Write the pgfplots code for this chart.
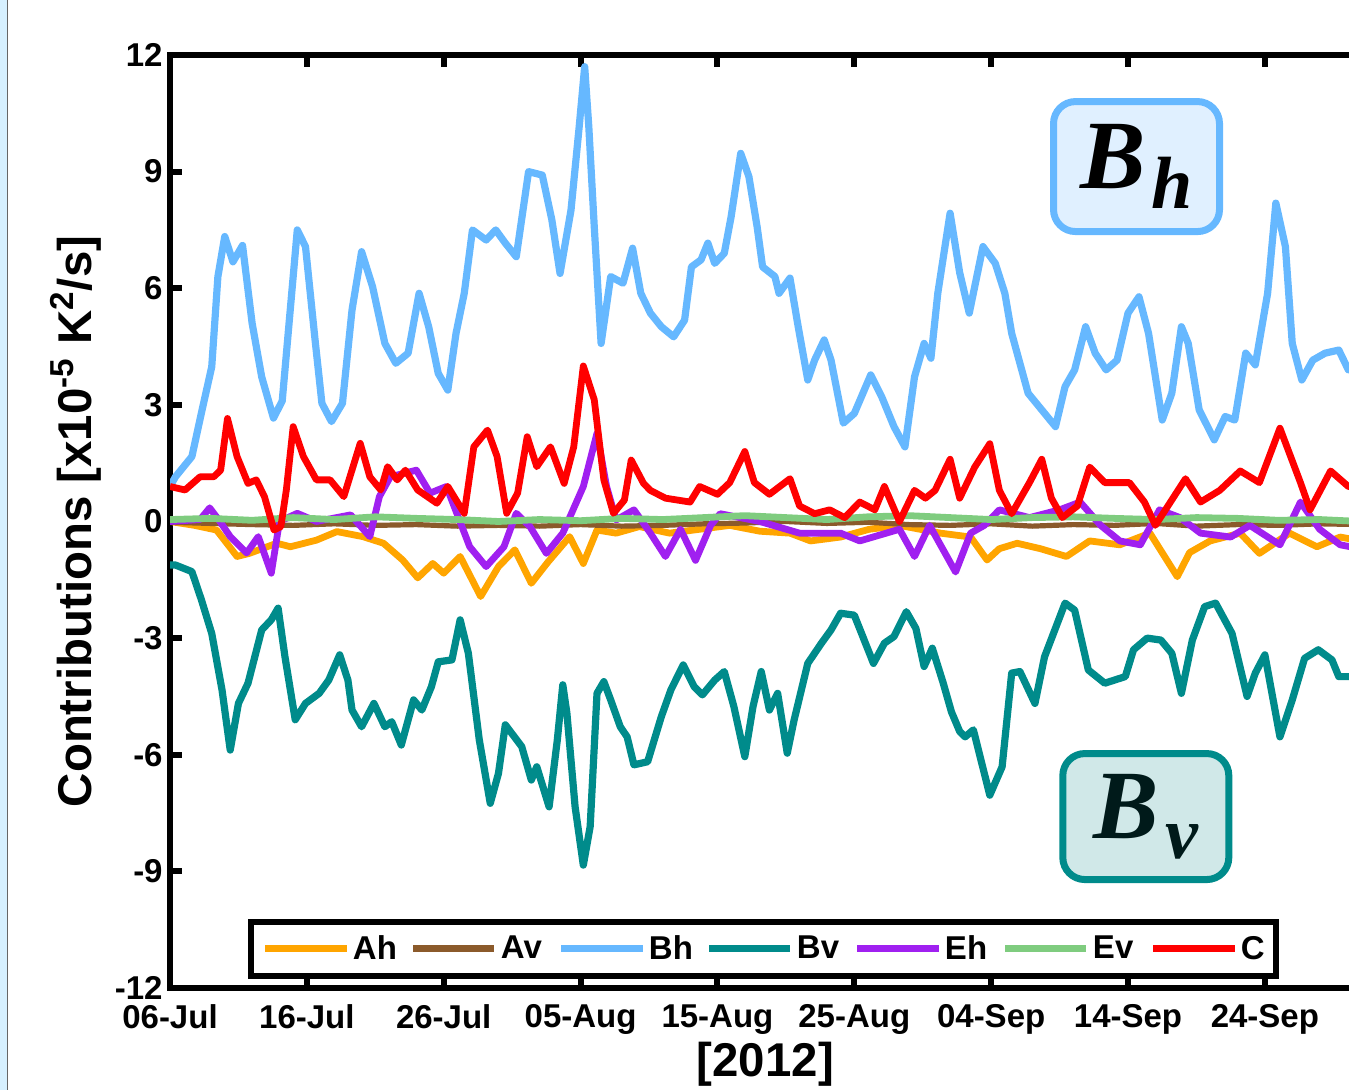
\documentclass[border=0pt]{standalone}
\usepackage{fontspec}
\setmainfont{Liberation Sans}
\newfontfamily\serifbi{Liberation Serif}
\usepackage{pgfplots}
\pgfplotsset{compat=1.18}

\definecolor{cAh}{RGB}{255,165,0}
\definecolor{cAv}{RGB}{139,90,43}
\definecolor{cBh}{RGB}{102,184,255}
\definecolor{cBv}{RGB}{0,139,139}
\definecolor{cEh}{RGB}{160,32,240}
\definecolor{cEv}{RGB}{127,204,127}
\definecolor{cC}{RGB}{255,0,0}
\definecolor{bhfill}{RGB}{224,240,255}
\definecolor{bvfill}{RGB}{208,232,232}
\definecolor{slide}{RGB}{214,240,255}

% big B with a subscript, for the two tags
\newcommand{\btag}[2]{{\serifbi\bfseries\itshape\fontsize{49}{50}\selectfont #1\kern3pt\raisebox{-10pt}{\fontsize{37}{40}\selectfont #2}}}

\begin{document}
\begin{tikzpicture}[x=0.5pt,y=0.5pt]
  \path[use as bounding box] (0,0) rectangle (1349,1090);
  \clip (0,0) rectangle (1349,1090);
  \fill[slide] (0,0) rectangle (7,1090);
  \draw[black!60, line width=0.6pt] (7.5,0) -- (7.5,1090);

  \begin{axis}[
    at={(85pt,51pt)}, anchor=south west,
    scale only axis, width=595.35pt, height=466.5pt,
    xmin=0, xmax=87, ymin=-12, ymax=12,
    axis line style={line width=3pt},
    tick style={line width=3pt, black},
    tick align=inside, major tick length=6pt,
    xtick={0,10,20,30,40,50,60,70,80},
    xticklabels={06-Jul,16-Jul,26-Jul,05-Aug,15-Aug,25-Aug,04-Sep,14-Sep,24-Sep},
    ytick={-12,-9,-6,-3,0,3,6,9,12},
    yticklabels={-12,-9,-6,-3,0,3,6,9,12},
    ticklabel style={font=\fontsize{16.5}{18}\selectfont\bfseries},
    xticklabel style={anchor=north, inner sep=0pt, yshift=-8pt},
    yticklabel style={anchor=east, inner sep=0pt, xshift=-3.5pt},
    xlabel={[2012]},
    ylabel={Contributions [x10\textsuperscript{-5} K\textsuperscript{2}/s]},
    label style={font=\fontsize{23.7}{26}\selectfont\bfseries},
    xlabel style={at={(axis description cs:0.5,-0.0954)}, anchor=base},
    ylabel style={at={(axis description cs:-0.0663,0.5)}, anchor=base},
    every axis plot/.append style={line width=3.4pt, line join=round},
    legend columns=7,
    legend image code/.code={\draw[#1, line width=3.5pt] (0pt,0pt) -- (40.5pt,0pt);},
    legend style={at={(axis description cs:0.0655,0.0418)}, anchor=west,
      draw=black, line width=3pt, fill=white,
      font=\fontsize{16.5}{18}\selectfont\bfseries,
      inner xsep=5.5pt, inner ysep=7pt,
      nodes={inner sep=0pt},
      /tikz/every odd column/.append style={column sep=1.5pt},
      /tikz/every even column/.append style={column sep=7.5pt}},
  ]

  % Ah
  \addplot[cAh] coordinates {
    (0,0)(1.8,-0.1)(3.4,-0.22)(4.9,-0.9)(5.8,-0.82)(7.8,-0.56)(8.8,-0.65)
    (10.7,-0.48)(12.2,-0.26)(14.1,-0.39)(15.6,-0.56)(17.0,-0.99)(18.1,-1.45)
    (19.2,-1.08)(20.0,-1.33)(21.2,-0.9)(22.7,-1.93)(24.0,-1.16)(25.2,-0.73)
    (26.4,-1.59)(27.6,-1.05)(29.2,-0.39)(30.2,-1.08)(31.2,-0.22)(32.6,-0.3)
    (34.3,-0.13)(36.5,-0.3)(38.7,-0.2)(40.9,-0.1)(43.1,-0.25)(45.3,-0.3)
    (46.8,-0.5)(49.0,-0.4)(51.1,-0.2)(53.3,-0.1)(56.3,-0.3)(58.5,-0.4)
    (59.7,-0.99)(60.6,-0.7)(61.9,-0.56)(63.6,-0.7)(65.5,-0.9)(67.2,-0.5)
    (69.4,-0.6)(71.6,-0.3)(73.6,-1.42)(74.5,-0.8)(76.0,-0.5)(78.2,-0.3)
    (79.6,-0.82)(81.8,-0.3)(83.8,-0.65)(85.5,-0.4)(87,-0.5)};
  \addlegendentry{\makebox[21pt][l]{Ah}}

  % Av
  \addplot[cAv, line width=2.6pt] coordinates {
    (0,-0.02)(3,-0.05)(6,-0.08)(9,-0.1)(12,-0.06)(15,-0.1)(18,-0.08)(21,-0.12)
    (24,-0.1)(27,-0.12)(30,-0.08)(33,-0.12)(36,-0.1)(39,-0.06)(42,-0.04)(45,0.0)
    (48,-0.05)(51,-0.02)(54,-0.08)(57,-0.1)(60,-0.06)(63,-0.12)(66,-0.08)
    (69,-0.1)(72,-0.05)(75,-0.12)(78,-0.08)(81,-0.1)(84,-0.06)(87,-0.08)};
  \addlegendentry{\makebox[21pt][l]{Av}}

  % Bh
  \addplot[cBh, line width=3.6pt] coordinates {
    (0,0.9)(0.4,1.15)(1.6,1.67)(2.3,2.8)(3.05,3.98)(3.5,6.3)(4.0,7.33)(4.6,6.68)
    (5.3,7.1)(6.0,5.1)(6.7,3.72)(7.56,2.66)(8.2,3.1)(9.3,7.5)(9.9,7.07)(10.6,4.67)
    (11.1,3.04)(11.8,2.57)(12.6,3.04)(13.3,5.44)(14.0,6.94)(14.8,6.04)(15.7,4.58)
    (16.5,4.07)(17.4,4.33)(18.2,5.87)(18.9,5.01)(19.6,3.81)(20.3,3.38)(20.9,4.84)
    (21.5,5.87)(22.1,7.5)(23.1,7.24)(23.8,7.5)(24.5,7.16)(25.3,6.81)(26.2,9.0)
    (27.2,8.91)(27.9,7.76)(28.5,6.38)(29.3,8.01)(29.9,10.16)(30.3,11.7)(30.6,10.16)
    (31.0,7.58)(31.5,4.58)(32.2,6.3)(33.1,6.13)(33.8,7.03)(34.4,5.87)(35.1,5.36)
    (35.9,5.01)(36.8,4.75)(37.6,5.18)(38.1,6.55)(38.8,6.73)(39.3,7.16)(39.8,6.64)
    (40.5,6.9)(41.0,7.84)(41.7,9.47)(42.3,8.87)(42.9,7.58)(43.3,6.55)(44.2,6.3)
    (44.5,5.87)(45.3,6.26)(45.9,5.01)(46.6,3.64)(47.1,4.15)(47.8,4.67)(48.3,4.15)
    (49.2,2.53)(50.0,2.78)(51.2,3.77)(52.0,3.21)(52.9,2.44)(53.7,1.92)(54.4,3.72)
    (55.1,4.58)(55.6,4.2)(56.1,5.87)(57.0,7.93)(57.7,6.4)(58.4,5.36)(59.4,7.07)
    (60.3,6.64)(61.0,5.87)(61.5,4.84)(62.7,3.3)(63.7,2.87)(64.7,2.44)(65.4,3.47)
    (66.1,3.9)(66.9,5.01)(67.6,4.33)(68.4,3.9)(69.2,4.15)(70.0,5.36)(70.8,5.78)
    (71.5,4.84)(72.5,2.61)(73.2,3.3)(73.9,5.01)(74.4,4.58)(75.2,2.87)(76.3,2.1)
    (77.1,2.7)(77.8,2.61)(78.6,4.33)(79.3,4.03)(80.2,5.87)(80.8,8.19)(81.5,7.07)
    (82.0,4.58)(82.7,3.64)(83.5,4.15)(84.4,4.33)(85.4,4.41)(86.1,3.9)(87,4.0)};
  \addlegendentry{\makebox[21pt][l]{Bh}}

  % Bv
  \addplot[cBv, line width=3.6pt] coordinates {
    (0,-1.12)(0.4,-1.12)(1.6,-1.29)(2.3,-2.02)(3.05,-2.88)(3.8,-4.33)(4.4,-5.88)
    (5.0,-4.68)(5.7,-4.16)(6.7,-2.79)(7.4,-2.53)(7.9,-2.23)(8.4,-3.48)(9.15,-5.1)
    (9.9,-4.68)(10.9,-4.42)(11.6,-4.08)(12.4,-3.43)(13.0,-4.08)(13.3,-4.85)
    (14.0,-5.28)(14.9,-4.68)(15.7,-5.28)(16.2,-5.15)(16.9,-5.75)(17.8,-4.59)
    (18.4,-4.85)(19.1,-4.25)(19.6,-3.61)(20.6,-3.56)(21.2,-2.53)(21.8,-3.39)
    (22.6,-5.62)(23.4,-7.25)(24.0,-6.48)(24.5,-5.23)(25.7,-5.79)(26.4,-6.65)
    (26.8,-6.31)(27.7,-7.34)(28.3,-5.62)(28.7,-4.2)(29.0,-4.93)(29.6,-7.34)
    (30.2,-8.84)(30.7,-7.85)(31.2,-4.42)(31.7,-4.12)(32.2,-4.59)(32.9,-5.28)
    (33.4,-5.54)(33.9,-6.26)(34.9,-6.18)(35.9,-5.02)(36.6,-4.33)(37.5,-3.69)
    (38.3,-4.25)(38.9,-4.46)(39.8,-4.08)(40.5,-3.86)(41.2,-4.76)(42.0,-6.05)
    (42.6,-4.76)(43.2,-3.86)(43.8,-4.85)(44.4,-4.42)(45.1,-5.96)(45.6,-5.11)
    (46.6,-3.65)(47.6,-3.13)(48.3,-2.79)(49.0,-2.36)(50.0,-2.41)(51.4,-3.65)
    (52.2,-3.13)(52.9,-2.96)(53.8,-2.32)(54.5,-2.75)(55.1,-3.73)(55.7,-3.26)
    (56.5,-4.16)(57.1,-4.9)(57.7,-5.4)(58.1,-5.54)(58.7,-5.36)(59.9,-7.04)
    (60.8,-6.31)(61.5,-3.9)(62.1,-3.86)(63.2,-4.68)(63.9,-3.48)(65.4,-2.1)
    (66.1,-2.28)(67.1,-3.82)(68.3,-4.16)(69.8,-3.99)(70.4,-3.3)(71.4,-3.0)
    (72.4,-3.05)(73.2,-3.39)(73.9,-4.42)(74.7,-3.05)(75.6,-2.19)(76.4,-2.1)
    (77.6,-2.88)(78.7,-4.5)(79.3,-3.9)(80.0,-3.43)(81.1,-5.54)(82.0,-4.59)
    (82.9,-3.52)(83.9,-3.3)(84.9,-3.56)(85.4,-3.99)(86.3,-3.99)(87,-4.0)};
  \addlegendentry{\makebox[21pt][l]{Bv}}

  % Eh
  \addplot[cEh] coordinates {
    (0,0)(2.2,0.05)(2.9,0.35)(3.65,0.0)(4.4,-0.39)(5.6,-0.81)(6.45,-0.39)(7.4,-1.33)
    (8.0,0.0)(9.3,0.21)(10.7,0.0)(13.2,0.17)(14.6,-0.39)(15.3,0.64)(16.1,1.15)
    (18.0,1.32)(19.0,0.73)(20.2,0.9)(21.9,-0.65)(23.1,-1.16)(24.4,-0.65)(25.3,0.21)
    (26.3,-0.13)(27.5,-0.82)(28.7,-0.3)(30.2,0.9)(31.2,2.27)(31.9,0.9)(32.6,0.04)
    (33.9,0.3)(35.1,-0.3)(36.2,-0.9)(37.3,-0.2)(38.4,-1.0)(39.5,-0.1)(40.2,0.2)
    (43.1,0.0)(46.0,-0.3)(49.0,-0.3)(50.4,-0.5)(53.3,-0.2)(54.4,-0.9)(55.5,-0.1)
    (57.4,-1.3)(58.5,-0.3)(59.5,-0.1)(60.6,0.3)(62.8,0.1)(65.0,0.3)(66.5,0.5)
    (68.0,-0.1)(69.4,-0.5)(70.9,-0.6)(72.3,0.3)(73.8,0.1)(75.3,-0.3)(77.5,-0.4)
    (78.9,-0.1)(81.1,-0.6)(82.6,0.5)(84.0,-0.2)(85.5,-0.6)(87,-0.7)};
  \addlegendentry{\makebox[21pt][l]{Eh}}

  % Ev
  \addplot[cEv] coordinates {
    (0,0.05)(3,0.08)(6,0.03)(9,0.1)(12,0.05)(15,0.12)(18,0.08)(21,0.05)(24,0.0)
    (27,0.05)(30,0.02)(33,0.08)(36,0.05)(39,0.1)(42,0.15)(45,0.1)(48,0.05)
    (51,0.12)(54,0.15)(57,0.1)(60,0.05)(63,0.1)(66,0.12)(69,0.08)(72,0.05)
    (75,0.1)(78,0.08)(81,0.03)(84,0.05)(87,0.0)};
  \addlegendentry{\makebox[21pt][l]{Ev}}

  % C
  \addplot[cC] coordinates {
    (0,0.9)(1.1,0.81)(2.2,1.15)(3.2,1.15)(3.7,1.32)(4.2,2.65)(4.9,1.67)(5.7,0.98)
    (6.3,1.07)(6.9,0.64)(7.6,-0.22)(8.1,-0.13)(8.5,0.81)(9.0,2.44)(9.75,1.67)
    (10.7,1.07)(11.7,1.07)(12.7,0.64)(13.9,2.01)(14.6,1.15)(15.4,0.81)(15.9,1.41)
    (16.6,1.07)(17.2,1.32)(18.1,0.81)(19.5,0.47)(20.3,0.9)(21.5,0.21)(22.2,1.92)
    (23.2,2.35)(23.9,1.67)(24.6,0.21)(25.4,0.73)(26.1,2.18)(26.8,1.41)(27.8,1.92)
    (28.8,0.98)(29.5,1.92)(30.2,4.0)(31.0,3.13)(31.7,1.07)(32.4,0.21)(33.2,0.55)
    (33.7,1.58)(34.6,0.98)(35.1,0.8)(36.2,0.6)(38.0,0.5)(38.7,0.9)(40.0,0.7)
    (40.9,1.0)(42.0,1.8)(42.7,1.0)(43.8,0.7)(45.3,1.1)(46.0,0.4)(47.1,0.2)
    (48.2,0.3)(49.3,0.1)(50.4,0.5)(51.5,0.3)(52.2,0.9)(53.3,0.0)(54.4,0.8)
    (55.2,0.6)(55.9,0.8)(57.0,1.6)(57.7,0.6)(58.8,1.4)(59.9,2.0)(60.6,0.8)
    (61.5,0.2)(62.8,1.0)(63.7,1.6)(64.4,0.6)(65.2,0.1)(66.3,0.4)(67.2,1.4)
    (68.3,1.0)(70.1,1.0)(71.2,0.5)(72.0,-0.1)(73.1,0.5)(74.2,1.1)(75.3,0.5)
    (76.7,0.8)(78.2,1.3)(79.6,1.0)(81.1,2.4)(82.6,1.0)(83.3,0.3)(84.8,1.3)
    (86.1,0.9)(87,0.9)};
  \addlegendentry{C}

  \node[draw=cBh, fill=bhfill, line width=3.5pt, rounded corners=11pt,
        minimum width=83pt, minimum height=65pt, inner sep=0pt]
        at (axis cs:70.62,9.13) {\btag{B}{h}};
  \node[draw=cBv, fill=bvfill, line width=3.5pt, rounded corners=11pt,
        minimum width=83pt, minimum height=63pt, inner sep=0pt,
        text={rgb,255:red,0;green,26;blue,26}]
        at (axis cs:71.3,-7.59) {\btag{B}{v}};
  \end{axis}
\end{tikzpicture}
\end{document}
